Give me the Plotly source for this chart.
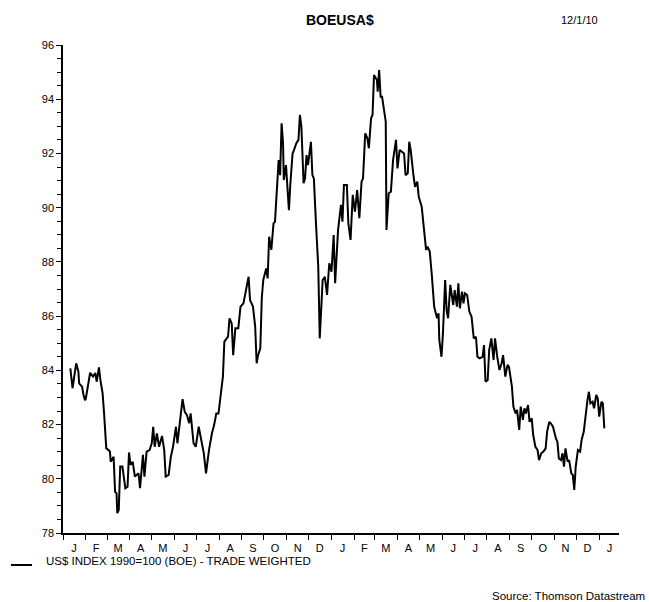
import plotly.graph_objects as go

# ---- data ----
dates = [
 "2008-01-11","2008-01-14","2008-01-19","2008-01-22","2008-01-23","2008-01-27","2008-01-29","2008-01-31",
 "2008-02-01","2008-02-05","2008-02-07","2008-02-11","2008-02-14","2008-02-16","2008-02-19","2008-02-21",
 "2008-02-24","2008-02-26","2008-02-29","2008-03-03","2008-03-05","2008-03-06","2008-03-10","2008-03-12",
 "2008-03-14","2008-03-15","2008-03-17","2008-03-19","2008-03-22","2008-03-26","2008-03-29","2008-03-31",
 "2008-04-02","2008-04-05","2008-04-08","2008-04-13","2008-04-15","2008-04-19","2008-04-21","2008-04-24",
 "2008-04-28","2008-05-01","2008-05-03","2008-05-05","2008-05-08","2008-05-11","2008-05-15","2008-05-18",
 "2008-05-20","2008-05-24","2008-05-27","2008-05-30","2008-06-03","2008-06-05","2008-06-09","2008-06-12",
 "2008-06-15","2008-06-18","2008-06-21","2008-06-23","2008-06-27","2008-06-30","2008-07-04","2008-07-08",
 "2008-07-11","2008-07-14","2008-07-16","2008-07-18","2008-07-22","2008-07-25","2008-07-28","2008-07-31",
 "2008-08-03","2008-08-06","2008-08-08","2008-08-11","2008-08-13","2008-08-15","2008-08-18","2008-08-20",
 "2008-08-23","2008-08-27","2008-08-30","2008-09-03","2008-09-06","2008-09-10","2008-09-12","2008-09-16",
 "2008-09-19","2008-09-21","2008-09-23","2008-09-26","2008-09-28","2008-09-30","2008-10-04","2008-10-06",
 "2008-10-08","2008-10-11","2008-10-14","2008-10-16","2008-10-18","2008-10-21","2008-10-23","2008-10-25",
 "2008-10-27","2008-10-28","2008-10-31","2008-11-02","2008-11-04","2008-11-06","2008-11-09","2008-11-11",
 "2008-11-14","2008-11-17","2008-11-19","2008-11-21","2008-11-24","2008-11-26","2008-11-28","2008-11-30",
 "2008-12-04","2008-12-06","2008-12-08","2008-12-11","2008-12-14","2008-12-16","2008-12-20","2008-12-23",
 "2008-12-26","2008-12-29","2009-01-01","2009-01-04","2009-01-06","2009-01-10","2009-01-14","2009-01-16",
 "2009-01-18","2009-01-22","2009-01-24","2009-01-27","2009-01-30","2009-02-02","2009-02-05","2009-02-08",
 "2009-02-11","2009-02-13","2009-02-16","2009-02-19","2009-02-21","2009-02-24","2009-02-26","2009-02-28",
 "2009-03-04","2009-03-05","2009-03-07","2009-03-09","2009-03-11","2009-03-14","2009-03-16","2009-03-17",
 "2009-03-20","2009-03-23","2009-03-26","2009-03-30","2009-04-01","2009-04-04","2009-04-08","2009-04-10",
 "2009-04-12","2009-04-15","2009-04-17","2009-04-19","2009-04-23","2009-04-25","2009-04-28","2009-04-30",
 "2009-05-04","2009-05-07","2009-05-10","2009-05-12","2009-05-15","2009-05-18","2009-05-21","2009-05-25",
 "2009-05-27","2009-05-28","2009-05-31","2009-06-02","2009-06-05","2009-06-07","2009-06-09","2009-06-12",
 "2009-06-14","2009-06-16","2009-06-18","2009-06-21","2009-06-23","2009-06-25","2009-06-28","2009-06-30",
 "2009-07-02","2009-07-05","2009-07-08","2009-07-11","2009-07-14","2009-07-17","2009-07-19","2009-07-22",
 "2009-07-26","2009-07-28","2009-07-30","2009-08-02","2009-08-04","2009-08-07","2009-08-10","2009-08-12",
 "2009-08-15","2009-08-18","2009-08-21","2009-08-23","2009-08-26","2009-08-29","2009-08-31","2009-09-04",
 "2009-09-06","2009-09-09","2009-09-11","2009-09-14","2009-09-16","2009-09-19","2009-09-21","2009-09-23",
 "2009-09-26","2009-09-28","2009-10-01","2009-10-03","2009-10-06","2009-10-09","2009-10-11","2009-10-14",
 "2009-10-17","2009-10-20","2009-10-22","2009-10-25","2009-10-27","2009-10-30","2009-11-03","2009-11-05",
 "2009-11-07","2009-11-10","2009-11-12","2009-11-14","2009-11-16","2009-11-19","2009-11-21","2009-11-24",
 "2009-11-26","2009-11-28","2009-11-30","2009-12-03","2009-12-06","2009-12-08","2009-12-11","2009-12-14",
 "2009-12-16","2009-12-18","2009-12-20","2009-12-23","2009-12-25","2009-12-28","2009-12-30","2010-01-01",
 "2010-01-04","2010-01-06","2010-01-08",
]

usd_index = [
 84.07,83.34,84.26,83.95,83.52,83.40,83.09,82.90,
 82.95,83.64,83.91,83.77,83.90,83.58,84.11,83.64,
 83.15,82.41,81.12,81.06,81.00,80.63,80.81,79.52,
 79.46,78.73,78.85,80.45,80.45,79.65,79.71,80.97,
 80.51,80.63,80.08,80.20,79.65,80.88,80.08,81.00,
 81.06,81.31,81.92,81.18,81.67,81.18,81.58,81.06,
 80.08,80.14,80.81,81.18,81.92,81.31,82.29,82.94,
 82.47,82.35,82.05,82.41,81.31,81.18,81.92,81.43,
 80.94,80.20,80.69,81.06,81.67,81.98,82.41,82.41,
 83.09,83.77,85.06,85.18,85.24,85.92,85.73,84.56,
 85.55,85.55,86.35,86.47,86.84,87.45,86.59,86.35,
 85.61,84.26,84.56,84.81,86.66,87.33,87.76,87.39,
 88.93,88.44,89.42,89.48,90.40,91.76,91.20,93.11,
 92.37,91.02,91.57,90.53,89.91,90.90,92.00,92.13,
 92.37,92.50,93.42,92.99,90.90,91.08,91.94,91.57,
 92.43,91.20,91.08,89.36,87.82,85.18,87.33,87.45,
 86.78,87.95,87.64,88.99,87.21,89.18,90.10,89.48,
 90.84,90.84,89.42,88.81,90.47,89.85,90.65,89.61,
 90.96,91.08,92.74,92.56,92.19,93.30,93.42,94.89,
 94.71,94.28,95.08,94.09,94.09,93.54,93.17,89.18,
 90.53,90.59,91.76,92.50,91.45,92.13,92.06,92.00,
 91.20,91.27,92.43,92.13,91.14,90.77,90.96,90.40,
 90.04,89.18,88.44,88.56,88.38,87.45,86.35,85.92,
 86.10,85.12,84.50,85.38,87.33,86.22,85.92,87.15,
 86.66,86.41,86.96,86.35,87.21,86.29,86.90,86.47,
 86.84,86.78,86.16,85.98,85.18,85.24,84.50,84.44,
 84.50,84.93,83.58,83.64,84.75,85.18,84.38,85.18,
 84.50,84.01,84.26,84.56,83.77,84.20,84.13,83.40,
 82.66,82.41,82.54,81.80,82.66,82.17,82.60,82.41,
 82.72,82.10,82.23,81.62,81.18,81.06,80.69,80.94,
 81.00,81.12,81.74,82.10,82.04,81.92,81.49,81.37,
 80.75,80.69,80.94,80.45,81.12,80.63,80.69,80.20,
 80.14,79.59,80.45,81.06,81.00,81.43,81.74,82.54,
 82.90,83.21,82.78,82.84,82.60,83.09,82.97,82.29,
 82.84,82.78,81.86,
]

month_labels = ["J","F","M","A","M","J","J","A","S","O","N","D",
                "J","F","M","A","M","J","J","A","S","O","N","D","J"]
month_mids = ["2008-01-16","2008-02-15","2008-03-16","2008-04-16","2008-05-16","2008-06-16",
              "2008-07-16","2008-08-16","2008-09-16","2008-10-16","2008-11-16","2008-12-16",
              "2009-01-16","2009-02-15","2009-03-16","2009-04-16","2009-05-16","2009-06-16",
              "2009-07-16","2009-08-16","2009-09-16","2009-10-16","2009-11-16","2009-12-16",
              "2010-01-15"]
y_ticks = [78, 80, 82, 84, 86, 88, 90, 92, 94, 96]

title_text = "BOEUSA$"
date_text = "12/1/10"
series_name = "US$ INDEX 1990=100 (BOE) - TRADE WEIGHTED"
source_text = "Source: Thomson Datastream"

FONT = "Liberation Sans, Arial, sans-serif"

fig = go.Figure()
fig.add_trace(go.Scatter(x=dates, y=usd_index, mode="lines", name=series_name,
                         line=dict(color="black", width=2), showlegend=False))

W, H = 649, 602
L, R, T, B = 63, 30, 45, 69
pw, ph = W - L - R, H - T - B

def px_x(p):
    return (p - L) / pw

def px_y(p):
    return (H - B - p) / ph

fig.update_layout(
    width=W, height=H,
    margin=dict(l=L, r=R, t=T, b=B),
    paper_bgcolor="white", plot_bgcolor="white",
    font=dict(family=FONT, size=11, color="black"),
    xaxis=dict(
        type="date", range=["2008-01-01", "2010-01-28"],
        tickmode="array", tickvals=month_mids, ticktext=month_labels,
        ticks="", showgrid=False, zeroline=False,
        showline=True, linecolor="black", linewidth=1.5,
        tickfont=dict(size=11), ticklabelstandoff=4,
        minor=dict(dtick="M1", tick0="2008-01-01", ticks="outside", ticklen=5,
                   tickwidth=1, tickcolor="black", showgrid=False),
    ),
    yaxis=dict(
        range=[78, 96], tickmode="array", tickvals=y_ticks,
        ticks="outside", ticklen=5, tickwidth=1, tickcolor="black",
        showgrid=False, zeroline=False,
        showline=True, linecolor="black", linewidth=1.5,
        tickfont=dict(size=11),
        minor=dict(dtick=0.5, ticks="outside", ticklen=4, tickwidth=1,
                   tickcolor="black", showgrid=False),
    ),
    annotations=[
        dict(text="<b>" + title_text + "</b>", xref="paper", yref="paper",
             x=px_x(340), y=px_y(20), xanchor="center", yanchor="middle",
             showarrow=False, font=dict(size=14)),
        dict(text=date_text, xref="paper", yref="paper",
             x=px_x(579), y=px_y(20), xanchor="center", yanchor="middle",
             showarrow=False, font=dict(size=11)),
        dict(text=series_name, xref="paper", yref="paper",
             x=px_x(44), y=px_y(561), xanchor="left", yanchor="middle",
             showarrow=False, font=dict(size=11.5)),
        dict(text=source_text, xref="paper", yref="paper",
             x=px_x(647), y=px_y(596), xanchor="right", yanchor="middle",
             showarrow=False, font=dict(size=11.5)),
    ],
    shapes=[
        dict(type="line", xref="paper", yref="paper",
             x0=px_x(11), x1=px_x(32), y0=px_y(565), y1=px_y(565),
             line=dict(color="black", width=2)),
    ],
)

fig.write_html("out.html", config={"displayModeBar": False},
               post_script="document.body.style.margin='0px';document.body.style.overflow='hidden';")
